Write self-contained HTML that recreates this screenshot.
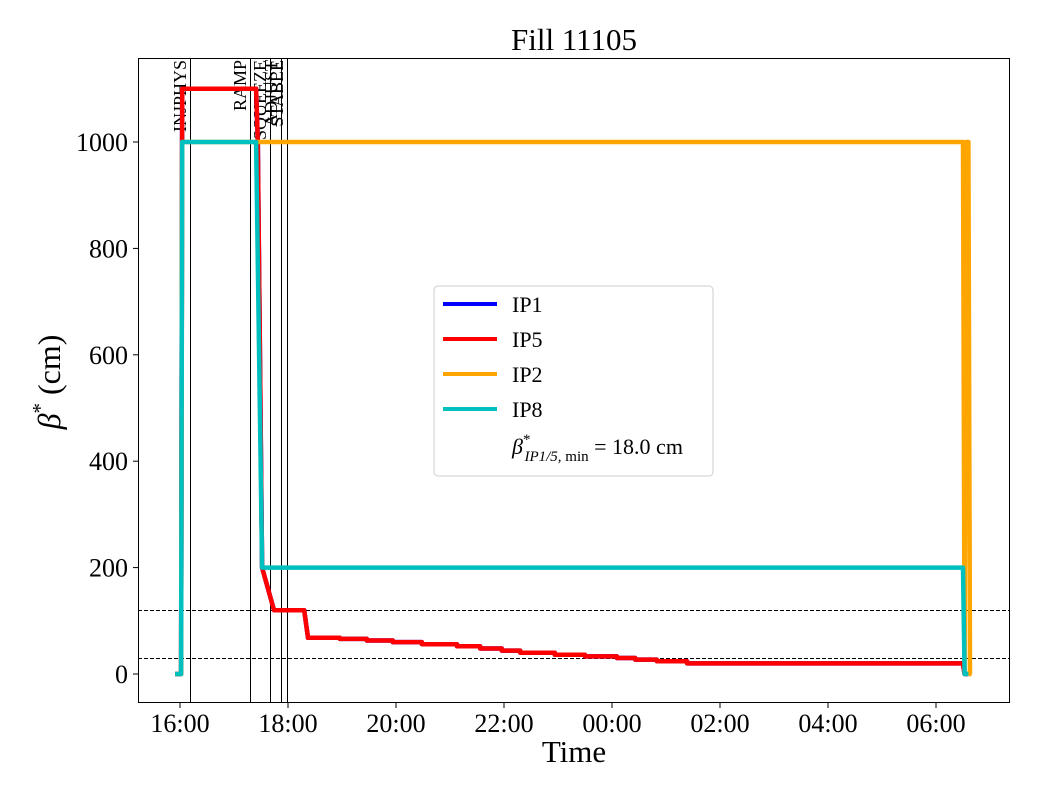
<!DOCTYPE html>
<html><head><meta charset="utf-8"><style>
body{margin:0;background:#fff}
svg text{font-family:"Liberation Serif","DejaVu Serif",serif;fill:#000}
</style></head><body>
<svg id="chart" width="1040" height="800" viewBox="0 0 1040 800">
<rect x="0" y="0" width="1040" height="800" fill="#fff"/>
<text x="574" y="50" font-size="31" text-anchor="middle">Fill 11105</text>
<g id="plot"></g>
<rect x="138.5" y="58.5" width="871" height="644" fill="none" stroke="#000" stroke-width="1"/>
<text x="574" y="762" font-size="31" text-anchor="middle">Time</text>
<text transform="translate(60,382) rotate(-90)" font-size="32" text-anchor="middle"><tspan font-style="italic">β</tspan><tspan dy="-13" font-size="21">*</tspan><tspan dy="13"> (cm)</tspan></text>
<g>
<rect x="434" y="286" width="279" height="190" rx="4" fill="#fff" stroke="#ccc"/>
<line x1="443" y1="304" x2="497" y2="304" stroke="#0000ff" stroke-width="4"/>
<text x="512" y="312" font-size="22">IP1</text>
<line x1="443" y1="339" x2="497" y2="339" stroke="#ff0000" stroke-width="4"/>
<text x="512" y="347" font-size="22">IP5</text>
<line x1="443" y1="374" x2="497" y2="374" stroke="#ffa500" stroke-width="4"/>
<text x="512" y="382" font-size="22">IP2</text>
<line x1="443" y1="409" x2="497" y2="409" stroke="#00bfbf" stroke-width="4"/>
<text x="512" y="417" font-size="22">IP8</text>
<text x="512" y="454" font-size="22"><tspan font-style="italic">β</tspan><tspan dy="-10" font-size="15">*</tspan><tspan dx="-6" dy="17" font-size="15" font-style="italic">IP1/5,</tspan><tspan font-size="15"> min</tspan><tspan dy="-7"> = 18.0 cm</tspan></text>
</g>
</svg>
<script>
const yTicks=[0,200,400,600,800,1000];
const xTickHours=[0,2,4,6,8,10,12,14];
const xTickLabels=["16:00","18:00","20:00","22:00","00:00","02:00","04:00","06:00"];
const refLevels=[120,30];
const phaseNames=["INJPHYS","RAMP","SQUEEZE","ADJUST","STABLE"];
const phaseHours=[0.185,1.3,1.67,1.87,1.98];
const ip15Hours=[-0.09,0.02,0.04,1.41,1.44,1.52,1.74,2.3,2.37,2.96,3.46,3.94,4.48,5.13,5.56,5.96,6.3,6.94,7.5,8.09,8.43,8.83,9.39,14.5,14.53,14.6];
const ip15Values=[0,0,1100,1100,1000,200,120,120,68,66,63,60,56,52,48,44,40,36,33,30,27,24,20,18,0,0];
const ip2Hours=[-0.09,0.02,0.04,14.5,14.53,14.56,14.6,14.63,14.66];
const ip2Values=[0,0,1000,1000,0,1000,1000,0,0];
const ip8Hours=[-0.09,0.02,0.04,1.41,1.52,14.5,14.53,14.6];
const ip8Values=[0,0,1000,1000,200,200,0,0];

const X=h=>180+54*h;
const Y=v=>674-0.532*v;
const NS="http://www.w3.org/2000/svg";
const plot=document.getElementById('plot');
function mk(tag,attrs){const e=document.createElementNS(NS,tag);for(const k in attrs)e.setAttribute(k,attrs[k]);plot.appendChild(e);return e;}

yTicks.forEach(v=>{
  const t=mk('line',{x1:133,x2:138,y1:Y(v),y2:Y(v),stroke:'#000'});
  
  
  const l=mk('text',{x:128,y:Y(v)+9,'font-size':26,'text-anchor':'end'});
  l.textContent=v;
  
  
});
xTickHours.forEach((h,i)=>{
  const t=mk('line',{x1:X(h),x2:X(h),y1:703,y2:708,stroke:'#000'});
  
  
  const l=mk('text',{x:X(h),y:732,'font-size':26,'text-anchor':'middle'});
  l.textContent=xTickLabels[i];
  
  
});
refLevels.forEach(v=>{
  const yy=Math.round(Y(v))+0.5;
  const d=mk('line',{x1:138,x2:1010,y1:yy,y2:yy,stroke:'#000','stroke-width':1,'stroke-dasharray':'4,2'});
  
  
});
phaseHours.forEach((h,i)=>{
  const xx=Math.round(X(h))+0.5;
  const l=mk('line',{x1:xx,x2:xx,y1:58,y2:703,stroke:'#000','stroke-width':1});
  
  
  const tx=X(h)-4;
  const t=mk('text',{transform:`translate(${tx},60) rotate(-90)`,'font-size':18,'text-anchor':'end'});
  t.textContent=phaseNames[i];
  
  
});
function series(hs,vs,color,name){
  let d='M'+X(hs[0]).toFixed(1)+','+Y(vs[0]).toFixed(1);
  for(let i=1;i<hs.length;i++){
    const x=X(hs[i]).toFixed(1);
    if(hs[i]-hs[i-1]>0.25) d+='L'+x+','+Y(vs[i-1]).toFixed(1);
    d+='L'+x+','+Y(vs[i]).toFixed(1);
  }
  const p=mk('path',{d:d,fill:'none',stroke:color,'stroke-width':4.5,'stroke-linejoin':'round'});
  
  
}
series(ip15Hours,ip15Values,'#0000ff','series-ip1');
series(ip15Hours,ip15Values,'#ff0000','series-ip5');
series(ip2Hours,ip2Values,'#ffa500','series-ip2');
series(ip8Hours,ip8Values,'#00bfbf','series-ip8');
</script>
</body></html>
